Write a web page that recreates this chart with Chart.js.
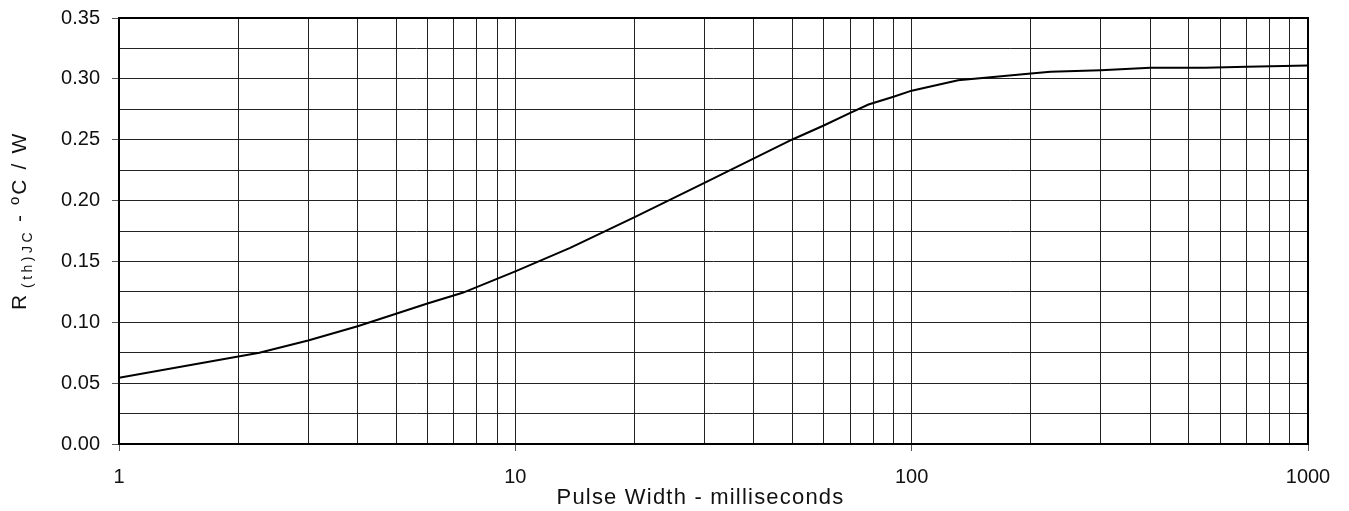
<!DOCTYPE html>
<html>
<head>
<meta charset="utf-8">
<script src="https://cdn.jsdelivr.net/npm/chart.js@4/dist/chart.umd.min.js"></script>
<style>
  body { margin: 0; background: #fff; }
</style>
</head>
<body>
<canvas id="graficoRth" width="1349" height="511"></canvas>
<script>
// valori (larghezza impulso in ms, resistenza termica in °C/W)
const larghezzaImpulso = [1, 2.26, 3, 4, 5, 6, 7.36, 10, 13.75, 20, 30, 40, 50, 60, 70, 77.8, 90, 100, 131, 200, 224, 300, 400, 550, 700, 1000];
const resistenzaTermica = [0.0544, 0.0749, 0.085, 0.0968, 0.107, 0.1154, 0.1242, 0.1418, 0.1612, 0.1864, 0.2146, 0.2346, 0.2502, 0.2617, 0.2721, 0.2789, 0.2853, 0.2903, 0.2989, 0.3044, 0.3058, 0.3071, 0.3091, 0.3091, 0.3099, 0.311];

const xTickPrincipali = [1, 10, 100, 1000];
const yTickPrincipali = [0, 0.05, 0.10, 0.15, 0.20, 0.25, 0.30, 0.35];

const titoloX = 'Pulse Width - milliseconds';
const titoloY = ['R', '(th)JC', ' - ºC / W'];

const FONT = '"Liberation Sans", Arial, Helvetica, sans-serif';

// griglia secondaria: 2..9 per ogni decade, e metà tra le etichette y
const xGriglia = [];
xTickPrincipali.forEach((d, i) => {
  xGriglia.push(d);
  if (i < xTickPrincipali.length - 1) {
    for (let m = 2; m <= 9; m++) xGriglia.push(d * m);
  }
});
const yGriglia = [];
yTickPrincipali.forEach((v, i) => {
  yGriglia.push(v);
  if (i < yTickPrincipali.length - 1) yGriglia.push((v + yTickPrincipali[i + 1]) / 2);
});

const isMaggioreX = v => xTickPrincipali.some(t => Math.abs(t - v) < 1e-9);
const isMaggioreY = v => yTickPrincipali.some(t => Math.abs(t - v) < 1e-9);

const cornice = {
  id: 'cornice',
  afterDraw(chart) {
    const { ctx, chartArea: a } = chart;
    ctx.save();
    ctx.strokeStyle = '#000';
    ctx.lineWidth = 2;
    ctx.strokeRect(a.left, a.top, a.right - a.left, a.bottom - a.top);

    // titolo asse x
    ctx.fillStyle = '#111';
    ctx.font = '22px ' + FONT;
    ctx.letterSpacing = '1.2px';
    ctx.textAlign = 'center';
    ctx.textBaseline = 'middle';
    ctx.fillText(titoloX, (a.left + a.right) / 2 - 13, 498);

    // titolo asse y (ruotato, con pedice)
    ctx.translate(26, 310);
    ctx.rotate(-Math.PI / 2);
    ctx.textAlign = 'left';
    ctx.textBaseline = 'alphabetic';
    ctx.font = '21px ' + FONT;
    ctx.letterSpacing = '0px';
    ctx.fillText(titoloY[0], 0, 0);
    ctx.font = '14px ' + FONT;
    ctx.letterSpacing = '3.5px';
    ctx.fillText(titoloY[1], 22, 6);
    ctx.font = '21px ' + FONT;
    ctx.letterSpacing = '2.2px';
    ctx.fillText(titoloY[2], 80, 0);
    ctx.restore();
  }
};

new Chart(document.getElementById('graficoRth'), {
  type: 'line',
  data: {
    datasets: [{
      data: larghezzaImpulso.map((x, i) => ({ x: x, y: resistenzaTermica[i] })),
      borderColor: '#000',
      borderWidth: 2,
      pointRadius: 0,
      tension: 0,
      fill: false
    }]
  },
  options: {
    responsive: false,
    animation: false,
    layout: { padding: { top: 18, right: 41, left: 0, bottom: 0 } },
    plugins: {
      legend: { display: false },
      tooltip: { enabled: false }
    },
    scales: {
      x: {
        type: 'logarithmic',
        min: 1,
        max: 1000,
        afterBuildTicks: scale => {
          scale.ticks = xGriglia.map(v => ({ value: v }));
        },
        afterFit: scale => {
          scale.height = 67;
          scale.paddingLeft = 0;
          scale.paddingRight = 0;
        },
        ticks: {
          autoSkip: false,
          maxRotation: 0,
          padding: 14,
          color: '#111',
          font: { family: FONT, size: 20 },
          callback: v => isMaggioreX(v) ? String(v) : ''
        },
        grid: {
          color: '#222',
          lineWidth: 1,
          tickLength: 7,
          tickColor: ctx => (ctx.tick && isMaggioreX(ctx.tick.value)) ? '#555' : 'rgba(0,0,0,0)'
        },
        border: { display: false }
      },
      y: {
        min: 0,
        max: 0.35,
        afterBuildTicks: scale => {
          scale.ticks = yGriglia.map(v => ({ value: v }));
        },
        afterFit: scale => {
          scale.width = 119;
          scale.paddingTop = 0;
          scale.paddingBottom = 0;
        },
        ticks: {
          autoSkip: false,
          padding: 12,
          color: '#111',
          font: { family: FONT, size: 20 },
          callback: v => isMaggioreY(v) ? v.toFixed(2) : ''
        },
        grid: {
          color: '#222',
          lineWidth: 1,
          tickLength: 7,
          tickColor: ctx => (ctx.tick && isMaggioreY(ctx.tick.value)) ? '#555' : 'rgba(0,0,0,0)'
        },
        border: { display: false }
      }
    }
  },
  plugins: [cornice]
});
</script>
</body>
</html>
